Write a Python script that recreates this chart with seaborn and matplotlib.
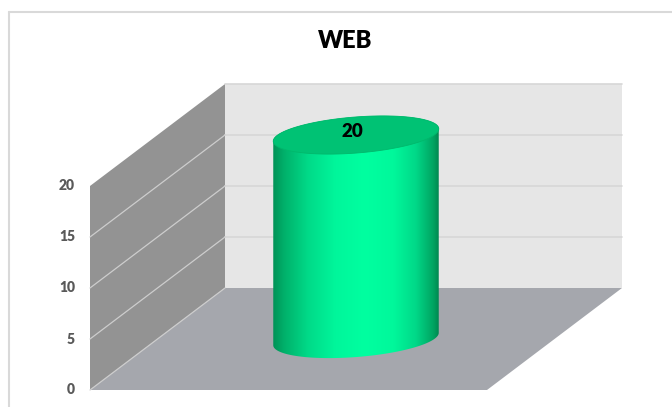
import numpy as np
import matplotlib
matplotlib.use("Agg")
import matplotlib.pyplot as plt
import seaborn as sns
import pandas as pd
from matplotlib.patches import Polygon
from matplotlib.lines import Line2D
from matplotlib.colors import LinearSegmentedColormap

# ---- data ----
title = "WEB"
categories = ["WEB"]
values = [20]
y_ticks = [0, 5, 10, 15, 20]

sns.set_theme(style="white")
plt.rcParams['font.family'] = ['Lato', 'DejaVu Sans']

W, H = 672, 407
fig = plt.figure(figsize=(W / 100, H / 100), dpi=100)
ax = fig.add_axes([0, 0, 1, 1])

# projection constants (pixel scale of the oblique 3D look)
PX_X = 397.0      # px per category band
PX_Y = 10.2       # px per value unit
X0, Y0 = 288.5, 390.0
DX = 135 / PX_X   # depth shift in data units
DY = 102 / PX_Y
ymax = max(y_ticks)

df = pd.DataFrame({"cat": categories, "val": values})
sns.barplot(data=df, x="cat", y="val", ax=ax, width=166 / PX_X, color="#00E090")
bars = list(ax.patches)
for p in bars:
    p.set_visible(False)

# ---- walls and floor ----
L, R = -0.5, 0.5
floor = Polygon([(L, 0), (R, 0), (R + DX, DY), (L + DX, DY)], closed=True,
                facecolor="#A5A7AD", edgecolor="none", zorder=1)
back = Polygon([(L + DX, DY), (R + DX, DY), (R + DX, DY + ymax), (L + DX, DY + ymax)],
               closed=True, facecolor="#E6E6E6", edgecolor="none", zorder=1)
side = Polygon([(L, 0), (L, ymax), (L + DX, ymax + DY), (L + DX, DY)], closed=True,
               facecolor="#939393", edgecolor="none", zorder=1)
for poly in (floor, back, side):
    ax.add_patch(poly)

for v in y_ticks:
    if 0 < v:
        ax.plot([L + DX, R + DX], [v + DY, v + DY], color="#D7D7D7", lw=1.2, zorder=2)
    if v < ymax:
        ax.plot([L, L + DX], [v, v + DY], color="#CDCDCD", lw=0.9, zorder=2)
    ax.text(L - 15 / PX_X, v, str(v), ha="right", va="center", fontsize=10,
            fontweight="heavy", color="#595959", zorder=3)

# ---- cylinders ----
cmap = LinearSegmentedColormap.from_list("cyl", [
    (0.00, "#008A52"), (0.08, "#00B06A"), (0.22, "#00DA88"), (0.38, "#00F69B"),
    (0.55, "#00FFA0"), (0.72, "#00F89B"), (0.85, "#00D888"), (0.95, "#00A562"),
    (1.00, "#007A47")])

th = np.radians(4.5)
B_PX = 18.0


def ellipse(cx, cy, a_px, t):
    ex, ey = a_px * np.cos(t), B_PX * np.sin(t)
    rx = ex * np.cos(th) - ey * np.sin(th)
    ry = ex * np.sin(th) + ey * np.cos(th)
    return np.column_stack([cx + rx / PX_X, cy + ry / PX_Y])


for p, v in zip(bars, values):
    w = p.get_width()
    h = p.get_height()
    cx = p.get_x() + w / 2 + DX / 2
    base = DY / 2
    top = h + DY / 2
    a_px = w * PX_X / 2
    t_low = np.linspace(np.pi, 2 * np.pi, 120)
    t_up = np.linspace(0, np.pi, 120)
    body_pts = np.vstack([ellipse(cx, base, a_px, t_low), ellipse(cx, top, a_px, t_up)])
    body = Polygon(body_pts, closed=True, facecolor="none", edgecolor="none", zorder=5)
    ax.add_patch(body)
    grad = np.linspace(0, 1, 256)[None, :]
    half = (a_px + 3) / PX_X
    im = ax.imshow(grad, cmap=cmap, extent=[cx - half, cx + half, base - 4, top + 4],
                   aspect="auto", zorder=5, interpolation="bilinear")
    im.set_clip_path(body)
    top_face = Polygon(ellipse(cx, top, a_px, np.linspace(0, 2 * np.pi, 240)), closed=True,
                       facecolor="#00C274", edgecolor="#00B86C", lw=0.6, zorder=6)
    ax.add_patch(top_face)
    ax.annotate(str(v), (cx, top), xytext=(-4, 3), textcoords="offset pixels",
                ha="center", va="center", fontsize=13.5, fontweight="heavy",
                color="black", zorder=7)

ax.set_xlim(-X0 / PX_X, (W - X0) / PX_X)
ax.set_ylim((Y0 - H) / PX_Y, Y0 / PX_Y)
ax.axis("off")

# chart frame
fig.add_artist(Line2D([9 / W, 9 / W], [0, 1 - 12 / H], color="#D9D9D9", lw=1.5,
                      transform=fig.transFigure))
fig.add_artist(Line2D([9 / W, 1], [1 - 12 / H, 1 - 12 / H], color="#D9D9D9", lw=1.5,
                      transform=fig.transFigure))

fig.text(345 / W, 1 - 41 / H, title, ha="center", va="center", fontsize=17,
         fontweight="heavy", color="black")

fig.savefig("out.png", dpi=100)
